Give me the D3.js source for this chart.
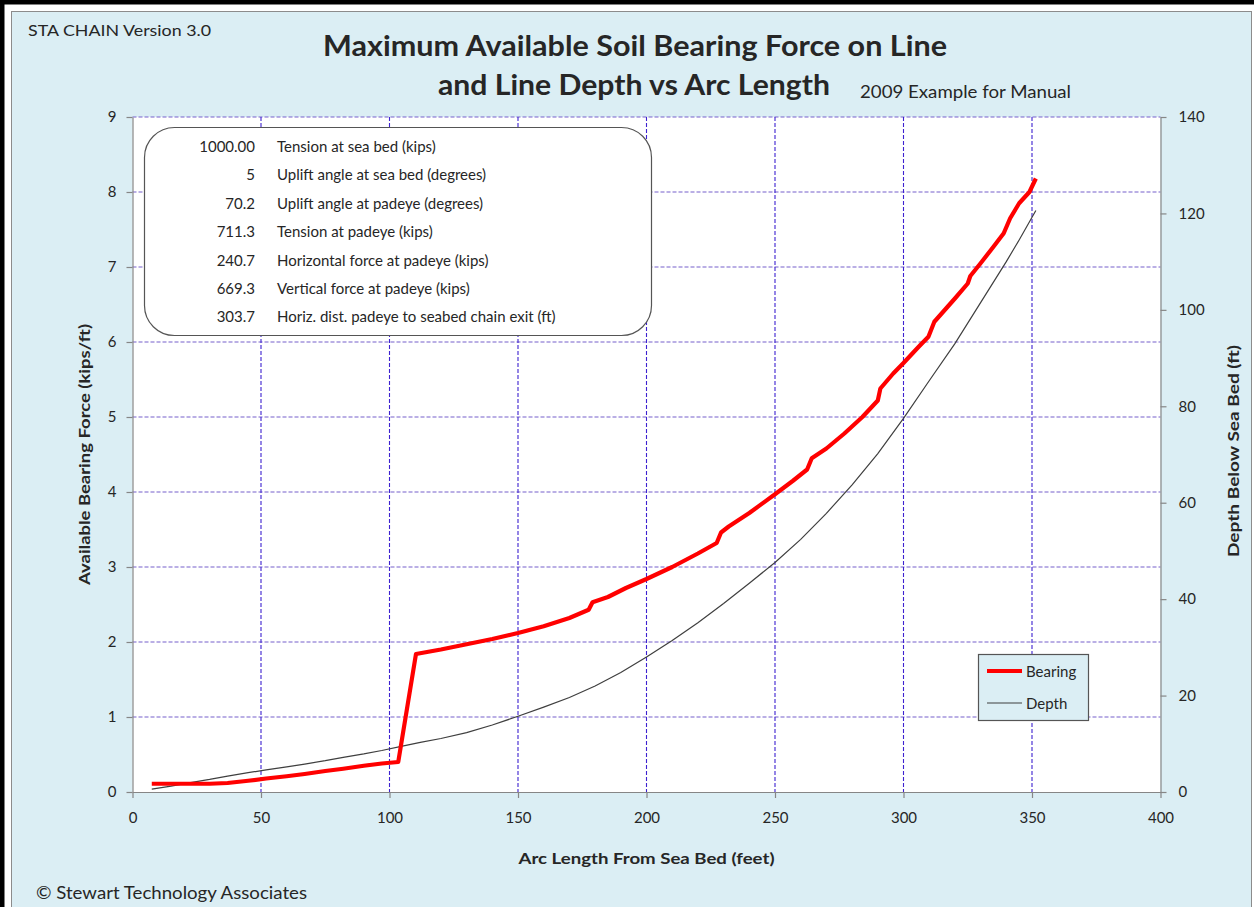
<!DOCTYPE html>
<html>
<head>
<meta charset="utf-8">
<script src="https://cdn.jsdelivr.net/npm/d3@7/dist/d3.min.js"></script>
<style>
  html, body { margin: 0; padding: 0; background: #fff; }
  svg { display: block; }
  text { font-family: Lato, "Open Sans", sans-serif; fill: #262626; }
</style>
</head>
<body>
<svg id="chart" width="1254" height="907"></svg>
<script>
// Arc length from sea bed (ft) and available soil bearing force (kips/ft)
const bearingArc = [7.5, 15, 22, 30, 37, 45, 52, 60, 67, 75, 82, 90, 97, 103.4, 110.3, 120, 130, 140, 150, 160, 170, 177.5, 179, 185, 192, 200, 210, 220, 227.3, 229, 232, 240, 250, 257, 262.5, 264.3, 270, 277, 284, 290, 291, 296, 300, 306, 309.7, 312, 320, 325, 326, 330, 335, 339, 341.5, 345, 349, 351.5];
const bearingForce = [0.11, 0.11, 0.11, 0.11, 0.12, 0.15, 0.18, 0.21, 0.24, 0.28, 0.31, 0.35, 0.38, 0.40, 1.84, 1.90, 1.97, 2.04, 2.12, 2.21, 2.32, 2.43, 2.53, 2.60, 2.72, 2.84, 3.00, 3.18, 3.32, 3.46, 3.54, 3.72, 3.97, 4.15, 4.30, 4.45, 4.58, 4.78, 5.00, 5.22, 5.38, 5.58, 5.72, 5.94, 6.07, 6.27, 6.58, 6.78, 6.88, 7.05, 7.27, 7.45, 7.65, 7.85, 8.00, 8.18];

// Arc length from sea bed (ft) and line depth below sea bed (ft)
const depthArc = [7.5, 15, 22, 30, 37, 45, 52, 60, 67, 75, 82, 90, 97, 105, 112, 120, 130, 140, 150, 160, 170, 180, 190, 200, 210, 220, 230, 240, 250, 260, 270, 280, 290, 300, 310, 320, 330, 340, 345, 351.5];
const depthBelow = [0.6, 1.2, 1.9, 2.6, 3.3, 4.0, 4.6, 5.2, 5.8, 6.5, 7.2, 7.9, 8.6, 9.5, 10.3, 11.1, 12.3, 13.9, 15.7, 17.6, 19.6, 22.0, 24.8, 28.0, 31.4, 35.1, 39.1, 43.3, 47.6, 52.4, 57.8, 63.7, 70.2, 77.5, 85.3, 93.0, 101.5, 110.0, 114.5, 120.6];

// Tick values
const xTicks = [0, 50, 100, 150, 200, 250, 300, 350, 400];
const yLeftTicks = [0, 1, 2, 3, 4, 5, 6, 7, 8, 9];
const yRightTicks = [0, 20, 40, 60, 80, 100, 120, 140];

// Summary of the catenary solution
const summaryValues = ["1000.00", "5", "70.2", "711.3", "240.7", "669.3", "303.7"];
const summaryLabels = [
  "Tension at sea bed (kips)",
  "Uplift angle at sea bed (degrees)",
  "Uplift angle at padeye (degrees)",
  "Tension at padeye (kips)",
  "Horizontal force at padeye (kips)",
  "Vertical force at padeye (kips)",
  "Horiz. dist. padeye to seabed chain exit (ft)"
];

const seriesNames = ["Bearing", "Depth"];

const svg = d3.select("#chart");
const W = 1254, H = 907;
const plot = { left: 132.5, right: 1160.5, top: 117, bottom: 792 };

// Outer frame
svg.append("rect").attr("x", 0).attr("y", 0).attr("width", W).attr("height", H).attr("fill", "#000");
svg.append("rect").attr("x", 4.5).attr("y", 4.5).attr("width", W).attr("height", H).attr("fill", "#fff");
svg.append("rect").attr("x", 11.5).attr("y", 11.5).attr("width", 1240).attr("height", 905)
  .attr("fill", "#dbeef4").attr("stroke", "#8c8c8c").attr("stroke-width", 1);

// Plot area
svg.append("rect").attr("x", plot.left).attr("y", plot.top)
  .attr("width", plot.right - plot.left).attr("height", plot.bottom - plot.top)
  .attr("fill", "#fff");

const x = d3.scaleLinear().domain([0, 400]).range([plot.left, plot.right]);
const yL = d3.scaleLinear().domain([0, 9]).range([plot.bottom, plot.top]);
const yR = d3.scaleLinear().domain([0, 140]).range([plot.bottom, plot.top]);

// Gridlines
const grid = svg.append("g");
grid.selectAll("line.h").data(yLeftTicks.filter(d => d > 0)).join("line")
  .attr("x1", plot.left).attr("x2", plot.right)
  .attr("y1", d => yL(d)).attr("y2", d => yL(d))
  .attr("stroke", "#7660cc").attr("stroke-width", 1.2).attr("stroke-dasharray", "4,2");
grid.selectAll("line.v").data(xTicks.filter(d => d > 0 && d < 400)).join("line")
  .attr("x1", d => x(d)).attr("x2", d => x(d))
  .attr("y1", plot.top).attr("y2", plot.bottom)
  .attr("stroke", "#3d22d0").attr("stroke-width", 1.1).attr("stroke-dasharray", "4,2");

// Axes
function styleAxis(g) {
  g.select(".domain").attr("stroke", "#868686").attr("stroke-width", 1.2);
  g.selectAll(".tick line").attr("stroke", "#868686").attr("stroke-width", 1.2);
  g.selectAll(".tick text").attr("fill", "#333").style("font-size", "15px")
    .style("font-family", "Lato, sans-serif");
}
svg.append("g").attr("transform", `translate(0,${plot.bottom})`)
  .call(d3.axisBottom(x).tickValues(xTicks).tickSize(6).tickSizeOuter(0).tickPadding(14))
  .call(styleAxis);
svg.append("g").attr("transform", `translate(${plot.left},0)`)
  .call(d3.axisLeft(yL).tickValues(yLeftTicks).tickSize(6).tickSizeOuter(0).tickPadding(10))
  .call(styleAxis);
svg.append("g").attr("transform", `translate(${plot.right},0)`)
  .call(d3.axisRight(yR).tickValues(yRightTicks).tickSize(6).tickSizeOuter(0).tickPadding(12))
  .call(styleAxis);

// Series
const depthLine = d3.line().x(d => x(d[0])).y(d => yR(d[1]));
const bearingLine = d3.line().x(d => x(d[0])).y(d => yL(d[1]));
svg.append("path").datum(d3.zip(depthArc, depthBelow))
  .attr("d", depthLine).attr("fill", "none")
  .attr("stroke", "#3f3f3f").attr("stroke-width", 1.2);
svg.append("path").datum(d3.zip(bearingArc, bearingForce))
  .attr("d", bearingLine).attr("fill", "none")
  .attr("stroke", "#ff0000").attr("stroke-width", 4.2)
  .attr("stroke-linejoin", "round").attr("stroke-linecap", "butt");

// Summary box
const box = svg.append("g");
box.append("rect").attr("x", 144.5).attr("y", 127.5).attr("width", 507).attr("height", 208)
  .attr("rx", 30).attr("ry", 30).attr("fill", "#fff").attr("stroke", "#555").attr("stroke-width", 1.2);
summaryValues.forEach((v, i) => {
  const cy = 152 + i * 28.4;
  box.append("text").attr("x", 255).attr("y", cy).attr("text-anchor", "end")
    .style("font-size", "15px").text(v);
  box.append("text").attr("x", 277).attr("y", cy)
    .style("font-size", "15px").text(summaryLabels[i]);
});

// Legend
const leg = svg.append("g");
leg.append("rect").attr("x", 978.5).attr("y", 654.5).attr("width", 110).attr("height", 66)
  .attr("fill", "#dbeef4").attr("stroke", "#555").attr("stroke-width", 1.2);
leg.append("line").attr("x1", 987).attr("x2", 1022).attr("y1", 671).attr("y2", 671)
  .attr("stroke", "#ff0000").attr("stroke-width", 4);
leg.append("line").attr("x1", 987).attr("x2", 1022).attr("y1", 703).attr("y2", 703)
  .attr("stroke", "#3f3f3f").attr("stroke-width", 1.2);
leg.append("text").attr("x", 1026).attr("y", 677).style("font-size", "15px").text(seriesNames[0]);
leg.append("text").attr("x", 1026).attr("y", 709).style("font-size", "15px").text(seriesNames[1]);

// Titles and captions
svg.append("text").attr("x", 28).attr("y", 36).style("font-size", "16px")
  .attr("textLength", 183).attr("lengthAdjust", "spacingAndGlyphs").text("STA CHAIN Version 3.0");
svg.append("text").attr("x", 323).attr("y", 56).style("font-size", "28px").style("font-weight", "bold")
  .attr("fill", "#000").attr("textLength", 624).attr("lengthAdjust", "spacingAndGlyphs")
  .text("Maximum Available Soil Bearing Force on Line");
svg.append("text").attr("x", 438).attr("y", 95).style("font-size", "28px").style("font-weight", "bold")
  .attr("textLength", 392).attr("lengthAdjust", "spacingAndGlyphs")
  .text("and Line Depth vs Arc Length");
svg.append("text").attr("x", 860).attr("y", 98).style("font-size", "17px")
  .attr("textLength", 211).attr("lengthAdjust", "spacingAndGlyphs").text("2009 Example for Manual");

svg.append("text").attr("x", (plot.left + plot.right) / 2).attr("y", 864).attr("text-anchor", "middle")
  .style("font-size", "16px").style("font-weight", "bold")
  .attr("textLength", 256).attr("lengthAdjust", "spacingAndGlyphs").text("Arc Length From Sea Bed (feet)");
svg.append("text").attr("transform", `translate(90,${(plot.top + plot.bottom) / 2}) rotate(-90)`)
  .attr("text-anchor", "middle").style("font-size", "16px").style("font-weight", "bold")
  .attr("textLength", 261).attr("lengthAdjust", "spacingAndGlyphs").text("Available Bearing Force (kips/ft)");
svg.append("text").attr("transform", `translate(1239,451) rotate(-90)`)
  .attr("text-anchor", "middle").style("font-size", "16px").style("font-weight", "bold")
  .attr("textLength", 212).attr("lengthAdjust", "spacingAndGlyphs").text("Depth Below Sea Bed (ft)");

svg.append("text").attr("x", 36).attr("y", 899).style("font-size", "17px")
  .attr("textLength", 271).attr("lengthAdjust", "spacingAndGlyphs").text("© Stewart Technology Associates");
</script>
</body>
</html>
